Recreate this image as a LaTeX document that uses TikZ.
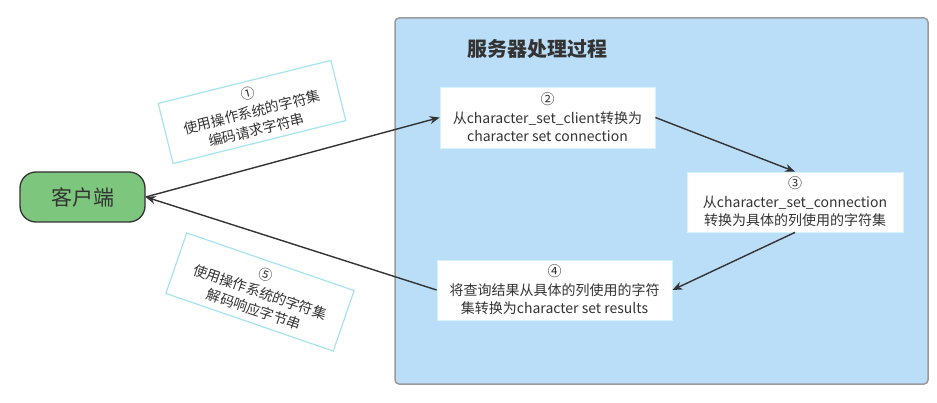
\documentclass[tikz,border=0pt]{standalone}
\usepackage{fontspec}
\setmainfont{Noto Sans CJK SC}
\usetikzlibrary{arrows.meta}
\definecolor{serverbg}{HTML}{BBDEF8}
\definecolor{serverline}{HTML}{9A9A9A}
\definecolor{clientbg}{HTML}{7DC67D}
\definecolor{labelline}{HTML}{A6E3EE}
\definecolor{stepline}{HTML}{D6F3F8}
\definecolor{txt}{HTML}{333333}
\tikzset{
  serverbox/.style={draw=serverline, line width=1.5pt, fill=serverbg, rounded corners=4pt, minimum width=533pt, minimum height=366pt, inner sep=0pt},
  clientbox/.style={draw=txt, line width=1.3pt, fill=clientbg, rounded corners=16pt, minimum width=125pt, minimum height=50pt, font=\fontsize{21}{24}\selectfont, text=txt},
  stepbox/.style={draw=stepline, line width=0.8pt, fill=white, align=center, font=\fontsize{14}{18.5}\selectfont, text=txt, inner sep=0pt},
  notebox/.style={draw=labelline, line width=1.2pt, fill=white, align=center, font=\fontsize{14}{18.5}\selectfont, text=txt, inner sep=0pt},
  arr/.style={draw=txt, line width=1.4pt, -{Stealth[length=10pt,width=8pt]}},
}
\begin{document}
\begin{tikzpicture}[x=1pt,y=-1pt]
\useasboundingbox (0,0) rectangle (937,403);
\node[serverbox] (srv) at (661.5,201) {};
\node[text=txt, font=\fontsize{20}{24}\selectfont\bfseries] (title) at (537,49) {服务器处理过程};
\node[clientbox] (client) at (82.5,197) {客户端};
\node[stepbox, minimum width=215pt, minimum height=61pt] (s2) at (547.5,117.5) {②\\从character\_set\_client转换为\\character set connection};
\node[stepbox, minimum width=216pt, minimum height=60pt] (s3) at (795,202) {③\\从character\_set\_connection\\转换为具体的列使用的字符集};
\node[stepbox, minimum width=235pt, minimum height=60pt] (s4) at (554.5,290) {④\\将查询结果从具体的列使用的字符\\集转换为character set results};
\node[notebox, rotate=14, minimum width=178pt, minimum height=62pt] (n1) at (252,112) {①\\使用操作系统的字符集\\编码请求字符串};
\node[notebox, rotate=-19, minimum width=177pt, minimum height=64pt] (n5) at (260,292) {⑤\\使用操作系统的字符集\\解码响应字节串};
\draw[arr] (client.east) -- (s2.west);
\draw[arr] (s2.east) -- (s3.north);
\draw[arr] (s3.south) -- (s4.east);
\draw[arr] (s4.west) -- (client.east);
\end{tikzpicture}
\end{document}
